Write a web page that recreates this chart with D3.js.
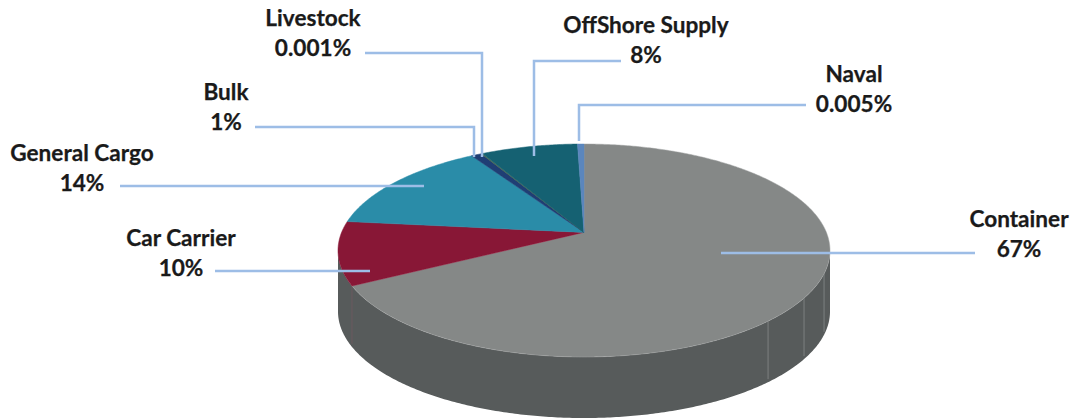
<!DOCTYPE html>
<html>
<head>
<meta charset="utf-8">
<script src="https://d3js.org/d3.v7.min.js"></script>
<style>
  html, body { margin: 0; padding: 0; background: #fff; }
  svg { display: block; }
  text { font-family: Lato, "Open Sans", sans-serif; font-weight: 700; font-size: 22.6px; fill: #1a1a1a; stroke: #1a1a1a; stroke-width: 0.25px; }
</style>
</head>
<body>
<div id="chart"></div>
<script>
// Chart data (shares, labels as printed)
const categories = ["Container", "Car Carrier", "General Cargo", "Bulk", "Livestock", "OffShore Supply", "Naval"];
const shares = [67.1, 9.6, 14.4, 0.8, 0.1, 7.5, 0.5];
const valueLabels = ["67%", "10%", "14%", "1%", "0.001%", "8%", "0.005%"];
const colors = ["#858887", "#881736", "#2a8ca8", "#1f3e74", "#4a6a4a", "#156172", "#5b86bd"];

// Label anchor and leader polyline for each category, same order
const labelPos = [[1019, 227], [181, 246], [82, 161], [226, 100], [313, 26], [646, 33], [854, 82]];
const leaders = [
  [[975, 253], [721, 253]],
  [[215, 271], [370, 271]],
  [[120, 186], [424, 186]],
  [[255, 127], [474, 127], [474, 157]],
  [[365, 53], [482, 53], [482, 157]],
  [[621, 61], [534, 61], [534, 156]],
  [[806, 105], [579, 105], [579, 141]]
];

const width = 1075, height = 419;
const depth = 61;
const tilt = -0.17; // moves the pie apex up the ellipse, for the perspective look

const x = d3.scaleLinear().domain([-1, 1]).range([338, 830]);
const y = d3.scaleLinear().domain([-1, 1]).range([144, 357]);

// Angle on the flat pie (clockwise from top) to screen position on the tilted disc
function project(a, r = 1, dy = 0) {
  const u = r * Math.sin(a), v = -r * Math.cos(a);
  const w = 1 + tilt * v;
  return [x(u * Math.sqrt(1 - tilt * tilt) / w), y((v + tilt) / w) + dy];
}

const svg = d3.select("#chart").append("svg")
    .attr("width", width)
    .attr("height", height);

const line = d3.line();

// Side wall: rim between the two widest points, then back along the bottom rim
const widest = Math.acos(tilt);
const rimAngles = d3.range(widest, 2 * Math.PI - widest, 0.01).concat([2 * Math.PI - widest]);
const wallRim = rimAngles.map(a => project(a));
const wallBottom = rimAngles.slice().reverse().map(a => project(a, 1, depth));
svg.append("path")
    .attr("d", line(wallRim.concat(wallBottom)) + "Z")
    .attr("fill", "#575b5b");

// Faint seams on the wall
const seamAngles = [112, 125, 138.5, 241.6];
svg.selectAll(".seam")
  .data(seamAngles)
  .join("path")
    .attr("class", "seam")
    .attr("d", d => {
      const a = d * Math.PI / 180;
      return line([project(a), project(a, 1, depth - 3)]);
    })
    .attr("stroke", d => d > 180 ? "#6b5a60" : "#7d8080")
    .attr("stroke-width", 1)
    .attr("fill", "none");

// Slices
const pie = d3.pie().sort(null).value(d => d)(shares);

function slicePath(d) {
  const steps = d3.range(d.startAngle, d.endAngle, 0.01).concat([d.endAngle]);
  return line([project(0, 0)].concat(steps.map(a => project(a)))) + "Z";
}

svg.selectAll(".slice")
  .data(pie)
  .join("path")
    .attr("class", "slice")
    .attr("d", slicePath)
    .attr("fill", (d, i) => colors[i])
    .attr("stroke", (d, i) => i === 0 ? "#a0a3a2" : colors[i])
    .attr("stroke-width", 0.5);

// Leader lines
svg.selectAll(".leader")
  .data(leaders)
  .join("path")
    .attr("class", "leader")
    .attr("d", d => line(d))
    .attr("fill", "none")
    .attr("stroke", "#9dbde6")
    .attr("stroke-width", 2.5);

// Labels
const labels = svg.selectAll(".label")
  .data(categories)
  .join("text")
    .attr("class", "label")
    .attr("text-anchor", "middle")
    .attr("x", (d, i) => labelPos[i][0])
    .attr("y", (d, i) => labelPos[i][1]);

labels.append("tspan").text(d => d);
labels.append("tspan")
    .attr("x", (d, i) => labelPos[i][0])
    .attr("dy", 30)
    .text((d, i) => valueLabels[i]);
</script>
</body>
</html>
